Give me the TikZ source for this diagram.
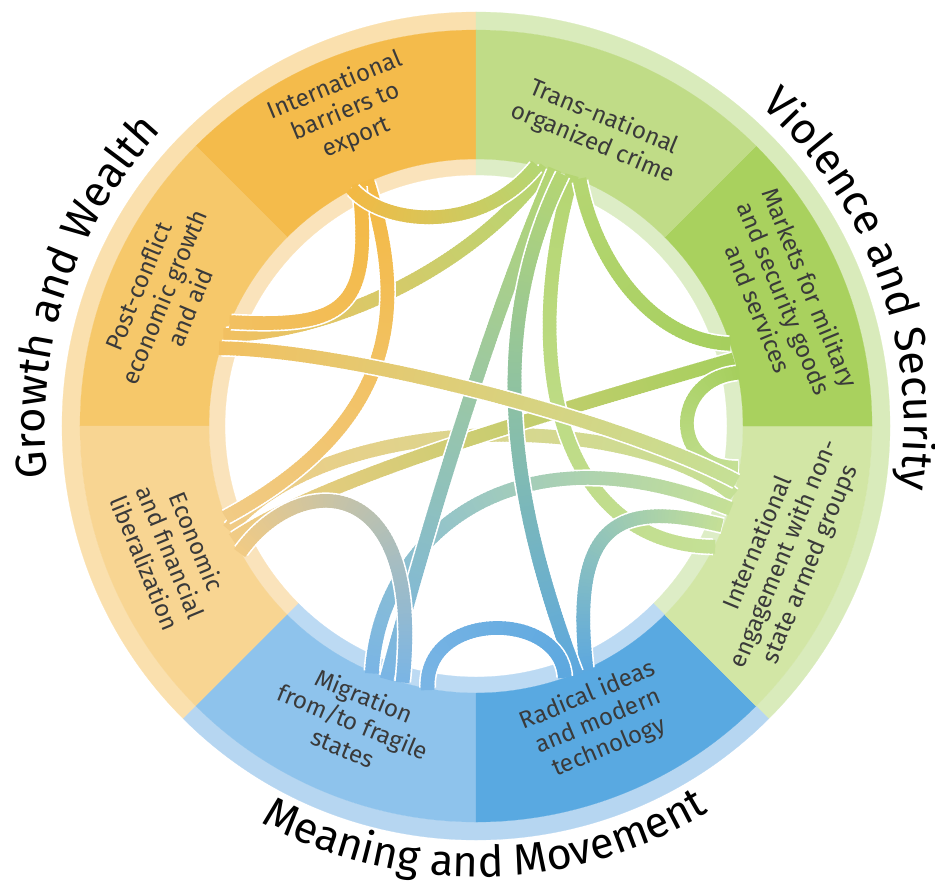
\documentclass[tikz,border=0pt]{standalone}
\usepackage{fontspec}
\setmainfont{Fira Sans}
\usetikzlibrary{decorations.markings,decorations.text}

\definecolor{orOut}{HTML}{FAE0AE}
\definecolor{grOut}{HTML}{D9EBBB}
\definecolor{blOut}{HTML}{B6D6F1}
\definecolor{orIn}{HTML}{FAE3BB}
\definecolor{grIn}{HTML}{DDEDC6}
\definecolor{blIn}{HTML}{BCDAF3}
\definecolor{barrC}{HTML}{F4BB4B}
\definecolor{postC}{HTML}{F6C86A}
\definecolor{econC}{HTML}{F8D592}
\definecolor{crimeC}{HTML}{C0DC87}
\definecolor{markC}{HTML}{A9D15E}
\definecolor{engC}{HTML}{D2E6A5}
\definecolor{migrC}{HTML}{8EC3EC}
\definecolor{radC}{HTML}{59A9E1}
\definecolor{rB}{HTML}{F3B944}
\definecolor{rP}{HTML}{F2C061}
\definecolor{rE}{HTML}{F1CB85}
\definecolor{rT}{HTML}{B5D672}
\definecolor{rK}{HTML}{A6CF5E}
\definecolor{rI}{HTML}{C5E096}
\definecolor{rM}{HTML}{7AB5E5}
\definecolor{rR}{HTML}{5DA8DF}
\definecolor{labelgray}{HTML}{3A3A3A}

% piece of the ring: start angle, end angle, inner radius, outer radius, colour
\newcommand{\ringpart}[5]{%
  \filldraw[#5, line width=0.2pt] (#1:#3) arc[start angle=#1, end angle=#2, radius=#3]
    -- (#2:#4) arc[start angle=#2, end angle=#1, radius=#4] -- cycle;}

% ribbon between two ends, with a colour running from #5 to #6
\newcommand{\ribbon}[6]{%
  \draw[ribbon_edge] (#1) .. controls #3 and #4 .. (#2);
  \path[decoration={markings, mark=between positions 0 and 1 step 3pt with {%
      \pgfmathsetmacro\mixpct{100*(1-\pgfkeysvalueof{/pgf/decoration/mark info/distance from start}/\pgfdecoratedpathlength)}%
      \fill[#5!\mixpct!#6] (-2.6,-6.8) rectangle (2.6,6.8);}}, decorate]
    (#1) .. controls #3 and #4 .. (#2);}

\begin{document}
\begin{tikzpicture}[x=0.03cm,y=0.03cm]
	\tikzstyle{seg_label} = [align=center, text=labelgray, inner sep=0, font=\fontsize{20.5}{24}\selectfont]
	\tikzstyle{ribbon_edge} = [white, line width=0.51cm]
	\tikzstyle{group_label} = [decorate, decoration={text along path, text align=center, text color=black}]

	\useasboundingbox (-476,-463) rectangle (459,426);

%------------------------------------------------------------
	\ringpart{90}{225}{396}{414}{orOut}
	\ringpart{-45}{90}{396}{414}{grOut}
	\ringpart{-135}{-45}{396}{414}{blOut}

	\ringpart{90}{225}{251}{267}{orIn}
	\ringpart{-45}{90}{251}{267}{grIn}
	\ringpart{-135}{-45}{251}{267}{blIn}

	\ringpart{90}{135}{267}{396}{barrC}
	\ringpart{135}{180}{267}{396}{postC}
	\ringpart{180}{225}{267}{396}{econC}
	\ringpart{225}{270}{267}{396}{migrC}
	\ringpart{270}{315}{267}{396}{radC}
	\ringpart{315}{360}{267}{396}{engC}
	\ringpart{0}{45}{267}{396}{markC}
	\ringpart{45}{90}{267}{396}{crimeC}

%------------------------------------------------------------
	\node[seg_label, rotate=22.5] (barr) at (112.5:340) {International\\barriers to\\export};
	\node[seg_label, rotate=-22.5] (crime) at (67.5:320) {Trans-national\\organized crime};
	\node[seg_label, rotate=-67.5] (markets) at (22.5:334) {Markets for military\\and security goods\\and services};
	\node[seg_label, rotate=67.5] (engage) at (-22.5:334) {International\\engagement with non-\\state armed groups};
	\node[seg_label, rotate=22.5] (radical) at (-67.5:320) {Radical ideas\\and modern\\technology};
	\node[seg_label, rotate=-22.5] (migr) at (-112.5:320) {Migration\\from/to fragile\\states};
	\node[seg_label, rotate=-67.5] (econ) at (-157.5:330) {Economic\\and financial\\liberalization};
	\node[seg_label, rotate=67.5] (post) at (157.5:338) {Post-conflict\\economic growth\\and aid};

%------------------------------------------------------------
	\path[group_label, decoration={text={|\fontsize{37}{37}\selectfont|Growth and Wealth}}]
		(211.8:431) arc[start angle=211.8, end angle=111.8, radius=431];
	\path[group_label, decoration={text={|\fontsize{37}{37}\selectfont|Violence and Security}}]
		(70:428) arc[start angle=70, end angle=-30, radius=428];
	\path[group_label, decoration={text={|\fontsize{37}{37}\selectfont|Meaning and Movement}}]
		(-138.7:451) arc[start angle=-138.7, end angle=-38.7, radius=451];

%------------------------------------------------------------
	\coordinate (b_t) at (117.5:266);
	\coordinate (b_p) at (116:266);
	\coordinate (b_e) at (114:266);

	\coordinate (t_b) at (77:266);
	\coordinate (t_p) at (75:266);
	\coordinate (t_m) at (73:266);
	\coordinate (t_r) at (71:266);
	\coordinate (t_i) at (69:266);
	\coordinate (t_k) at (67:266);

	\coordinate (k_t) at (18:266);
	\coordinate (k_e) at (14.5:266);
	\coordinate (k_i) at (11.5:266);

	\coordinate (i_k) at (-9:266);
	\coordinate (i_p) at (-12:266);
	\coordinate (i_e) at (-15:266);
	\coordinate (i_m) at (-18:266);
	\coordinate (i_r) at (-22:266);
	\coordinate (i_t) at (-27:266);

	\coordinate (r_m) at (-70.5:266);
	\coordinate (r_t) at (-68:266);
	\coordinate (r_i) at (-65.5:266);

	\coordinate (m_i) at (-113:266);
	\coordinate (m_t) at (-109.5:266);
	\coordinate (m_e) at (-106:266);
	\coordinate (m_r) at (-100.5:266);

	\coordinate (e_b) at (-160:266);
	\coordinate (e_i) at (-157.5:266);
	\coordinate (e_k) at (-155:266);
	\coordinate (e_m) at (-152:266);

	\coordinate (p_b) at (157:266);
	\coordinate (p_t) at (160:266);
	\coordinate (p_i) at (163:266);

%------------------------------------------------------------
	\ribbon{e_i}{i_e}{(-146,16)}{(154,16)}{rE}{rI}
	\ribbon{e_k}{k_e}{(-146,-49)}{(84,16)}{rE}{rK}
	\ribbon{t_i}{i_t}{(39,46)}{(94,-119)}{rT}{rI}
	\ribbon{m_i}{i_m}{(-96,-114)}{(34,6)}{rM}{rI}
	\ribbon{r_i}{i_r}{(94,-94)}{(144,-74)}{rR}{rI}
	\ribbon{k_i}{i_k}{(194,46)}{(194,-44)}{rK}{rI}
	\ribbon{t_k}{k_t}{(119,166)}{(174,86)}{rT}{rK}
	\ribbon{p_t}{t_p}{(-136,93)}{(4,166)}{rP}{rT}
	\ribbon{m_t}{t_m}{(-46,-94)}{(14,106)}{rM}{rT}
	\ribbon{r_t}{t_r}{(34,-74)}{(9,96)}{rR}{rT}
	\ribbon{e_m}{m_e}{(-176,-44)}{(-51,-44)}{rE}{rM}
	\ribbon{m_r}{r_m}{(-51,-184)}{(84,-184)}{rM}{rR}
	\ribbon{b_e}{e_b}{(-71,126)}{(-71,6)}{rB}{rE}
	\ribbon{p_i}{i_p}{(-126,76)}{(144,6)}{rP}{rI}
	\ribbon{b_p}{p_b}{(-104,116)}{(-131,98)}{rB}{rP}
	\ribbon{b_t}{t_b}{(-91,201)}{(4,191)}{rB}{rT}

\end{tikzpicture}
\end{document}
